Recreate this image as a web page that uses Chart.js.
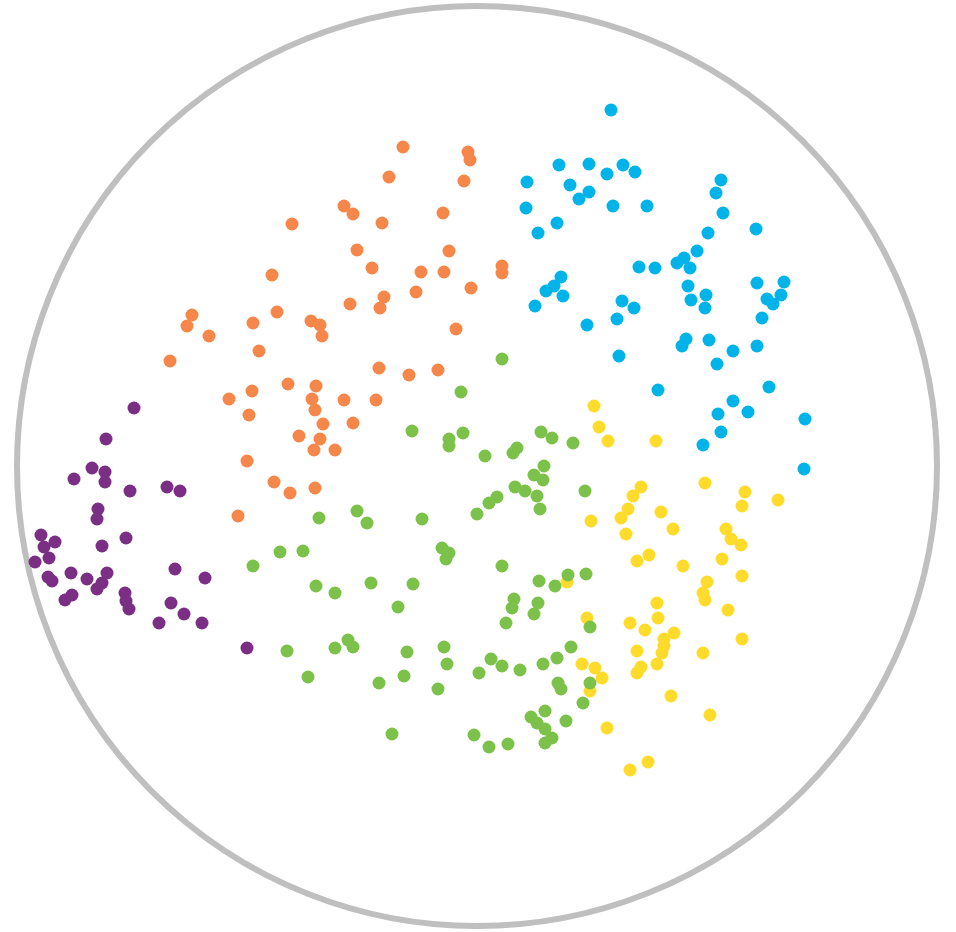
<!DOCTYPE html>
<html>
<head>
<meta charset="utf-8">
<script src="https://cdn.jsdelivr.net/npm/chart.js@4/dist/chart.umd.min.js"></script>
<style>
  html, body { margin: 0; padding: 0; background: #fff; }
  #wrap { width: 956px; height: 932px; }
</style>
</head>
<body>
<div id="wrap"><canvas id="scatterChart"></canvas></div>
<script>
// cluster points (x right, y down)
var purplePts = [
  [134,408],[106,439],[92,468],[105,472],[105,482],[74,479],[130,491],[167,487],[180,491],
  [98,509],[97,519],[126,538],[41,535],[55,542],[44,547],[102,546],[49,558],[35,562],
  [48,577],[52,581],[71,573],[87,579],[107,573],[102,583],[97,589],[65,600],[72,595],
  [125,593],[126,601],[129,609],[175,569],[205,578],[171,603],[184,614],[159,623],[202,623],[247,648]
];
var orangePts = [
  [403,147],[468,152],[470,160],[389,177],[464,181],[344,206],[353,214],[443,213],[382,223],
  [292,224],[357,250],[449,251],[372,268],[421,272],[444,272],[502,266],[502,273],[272,275],
  [471,288],[416,292],[384,297],[350,304],[380,308],[277,312],[192,315],[187,326],[253,323],
  [311,321],[320,325],[322,336],[209,336],[456,329],[259,351],[170,361],[379,368],[409,375],
  [438,370],[288,384],[316,386],[229,399],[252,391],[312,399],[344,400],[376,400],[315,410],
  [249,415],[323,424],[353,423],[299,436],[320,439],[314,450],[335,450],[247,461],[274,482],
  [290,493],[315,488],[238,516]
];
var greenPts = [
  [502,359],[461,392],[412,431],[463,433],[449,439],[449,446],[485,456],[513,453],[517,448],
  [541,432],[552,438],[573,443],[544,466],[534,475],[543,480],[515,487],[525,491],[537,496],
  [540,509],[497,497],[489,503],[477,514],[585,491],[319,518],[357,511],[367,523],[422,519],
  [280,552],[303,551],[253,566],[442,548],[449,553],[446,559],[502,566],[316,586],[335,593],
  [371,583],[413,584],[398,607],[539,581],[555,586],[568,575],[586,574],[514,599],[512,608],
  [538,603],[534,614],[506,623],[590,627],[348,640],[353,647],[335,648],[287,651],[407,652],
  [444,647],[447,664],[491,659],[502,666],[479,673],[520,670],[543,664],[557,658],[571,647],
  [308,677],[379,683],[404,676],[438,689],[558,683],[561,689],[590,683],[583,703],[545,711],
  [531,717],[537,723],[545,729],[566,721],[552,738],[545,743],[474,735],[489,747],[508,744],[392,734]
];
var yellowPts = [
  [594,406],[599,427],[608,441],[656,441],[705,483],[641,487],[633,496],[628,509],[621,518],
  [591,521],[626,534],[661,512],[673,529],[745,492],[742,506],[778,500],[726,529],[731,539],
  [741,545],[637,561],[649,555],[683,566],[722,559],[742,576],[707,582],[703,593],[705,600],
  [728,610],[657,603],[658,618],[630,623],[645,630],[674,633],[664,639],[664,646],[662,653],
  [637,651],[657,664],[641,667],[637,673],[742,639],[703,653],[671,696],[710,715],[607,728],
  [630,770],[648,762],[587,618],[582,664],[595,668],[602,678],[590,691],[567,582]
];
var bluePts = [
  [611,110],[559,165],[589,164],[623,165],[635,172],[607,174],[527,182],[570,185],[589,192],
  [579,199],[526,208],[613,206],[647,206],[721,180],[716,193],[723,213],[557,223],[538,233],
  [708,233],[756,229],[697,251],[684,258],[677,263],[690,268],[639,267],[655,268],[561,277],
  [554,286],[546,291],[563,296],[535,306],[688,286],[706,295],[691,300],[705,308],[757,283],
  [784,282],[781,295],[767,299],[773,304],[762,318],[622,301],[634,308],[617,319],[587,325],
  [686,339],[682,346],[709,340],[733,351],[757,346],[717,364],[619,356],[658,390],[769,387],
  [733,401],[748,412],[718,414],[721,432],[703,445],[805,419],[804,469]
];

var seriesNames = ["green", "yellow", "purple", "orange", "blue"];
var seriesPts = [greenPts, yellowPts, purplePts, orangePts, bluePts];
var seriesColors = ["#7cc24a", "#ffdb2b", "#7b2f84", "#f6874b", "#00b3e9"];

// outline circle, in the same units as the points
var ringCenter = [477, 466];
var ringRadius = 460;

var ringPlugin = {
  id: "ring",
  beforeDatasetsDraw: function (chart) {
    var sx = chart.scales.x, sy = chart.scales.y;
    var cx = sx.getPixelForValue(ringCenter[0]);
    var cy = sy.getPixelForValue(ringCenter[1]);
    var r = sx.getPixelForValue(ringCenter[0] + ringRadius) - cx;
    var ctx = chart.ctx;
    ctx.save();
    ctx.beginPath();
    ctx.arc(cx, cy, r, 0, Math.PI * 2);
    ctx.lineWidth = 6;
    ctx.strokeStyle = "#bfbfbf";
    ctx.stroke();
    ctx.restore();
  }
};

var datasets = seriesPts.map(function (pts, i) {
  return {
    label: seriesNames[i],
    data: pts.map(function (p) { return { x: p[0], y: p[1] }; }),
    backgroundColor: seriesColors[i],
    borderWidth: 0,
    pointRadius: 6.5,
    pointHoverRadius: 7,
    clip: false
  };
});

var ctx = document.getElementById("scatterChart").getContext("2d");
var scatterChart = new Chart(ctx, {
  type: "scatter",
  data: { datasets: datasets },
  options: {
    responsive: true,
    maintainAspectRatio: false,
    animation: false,
    layout: { padding: 0, autoPadding: false },
    scales: {
      x: { type: "linear", min: 0, max: 956, display: false },
      y: { type: "linear", min: 0, max: 932, reverse: true, display: false }
    },
    plugins: {
      legend: { display: false },
      tooltip: { enabled: true }
    }
  },
  plugins: [ringPlugin]
});
</script>
</body>
</html>
